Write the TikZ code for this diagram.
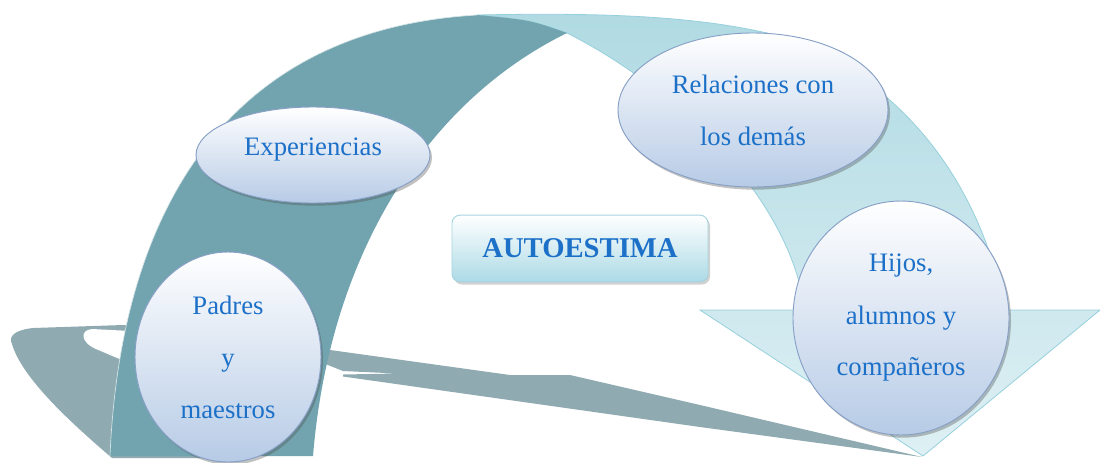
\documentclass[tikz,border=0pt]{standalone}
\usepackage{fontspec}
\setmainfont{Liberation Serif}
\usetikzlibrary{shadows,shapes.geometric}
\definecolor{darkband}{RGB}{114,164,175}
\definecolor{shadowgrey}{RGB}{143,170,177}
\definecolor{lighttop}{RGB}{176,218,227}
\definecolor{lightbot}{RGB}{222,240,244}
\definecolor{lightedge}{RGB}{150,208,220}
\definecolor{ellbot}{RGB}{183,203,230}
\definecolor{elledge}{RGB}{135,160,198}
\definecolor{txtblue}{RGB}{28,112,200}
\definecolor{boxbot}{RGB}{172,218,230}
\definecolor{boxedge}{RGB}{165,212,224}
\tikzset{
  bubble/.style={ellipse, inner sep=0pt, top color=white, bottom color=ellbot,
    draw=elledge, line width=0.7pt, text=txtblue, align=center,
    font=\fontsize{20}{39}\selectfont,
    drop shadow={shadow xshift=1.5pt, shadow yshift=-2pt, opacity=0.35, fill=black!70}},
  titlebox/.style={rectangle, rounded corners=6pt, inner sep=0pt, top color=white,
    bottom color=boxbot, draw=boxedge, line width=0.7pt, text=txtblue,
    font=\bfseries\fontsize{21.5}{26}\selectfont,
    drop shadow={shadow xshift=1.5pt, shadow yshift=-2pt, opacity=0.3, fill=black!60}}
}
\begin{document}
\begin{tikzpicture}[x=0.75pt,y=-0.75pt]
\useasboundingbox (0,0) rectangle (1100,462);
% shadow, left part
\fill[shadowgrey] (140,326) -- (123,325) -- (33,328)
  .. controls (15,330) and (8,336) .. (12,344)
  .. controls (22,378) and (70,422) .. (112,458) -- (250,458) -- (250,330) -- cycle;
\fill[white] (150,332) -- (92,329) .. controls (80,330) and (80,342) .. (96,349) -- (150,372) -- cycle;
% shadow, right part
\fill[shadowgrey] (300,345) -- (323,349) -- (510,375) -- (570,375) -- (700,405) -- (922,457)
  -- (700,427) -- (343,376.5) -- (343,374.5) -- (397,373.5) -- (343,371) -- (323,363) -- (300,360) -- cycle;
% light part of the curved arrow with its head
\path[draw=lightedge, line width=0.6pt, top color=lighttop, bottom color=lightbot]
  (477,15) .. controls (620,12) and (700,18) .. (767,33)
  .. controls (880,65) and (975,160) .. (1005,310)
  -- (1100,310) -- (923,456) -- (700,310) -- (805,310)
  .. controls (790,200) and (680,90) .. (567,33)
  .. controls (530,20) .. (477,15) -- cycle;
% dark part of the curved arrow
\fill[darkband] (110,456) .. controls (120,220) and (220,30) .. (477,15)
  .. controls (530,20) .. (567,33)
  .. controls (430,100) and (330,250) .. (313,456) -- cycle;
\draw[white!70!darkband, line width=0.5pt] (110,456) .. controls (120,220) and (220,30) .. (477,15);
% bubbles
\node[bubble, minimum width=175.5pt, minimum height=72pt, text height=14pt, text depth=14pt] (exp) at (313,155) {Experiencias};
\node[bubble, minimum width=202.5pt, minimum height=115.5pt] (rel) at (753,110) {Relaciones con\\los demás};
\node[bubble, minimum width=162pt, minimum height=175.5pt] (hijos) at (901,318) {Hijos,\\alumnos y\\compañeros};
\node[bubble, minimum width=139.5pt, minimum height=157.5pt] (padres) at (228,357) {Padres\\y\\maestros};
\node[titlebox, minimum width=192pt, minimum height=50pt] (auto) at (580,248.5) {AUTOESTIMA};
\end{tikzpicture}
\end{document}
